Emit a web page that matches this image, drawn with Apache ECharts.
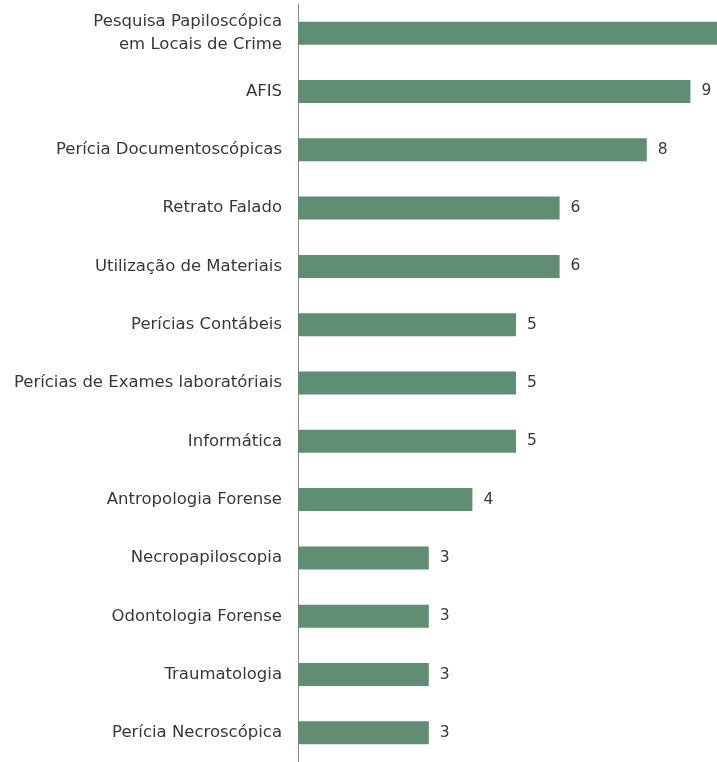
<!DOCTYPE html>
<html>
<head>
<meta charset="utf-8">
<script src="https://cdn.jsdelivr.net/npm/echarts@6/dist/echarts.min.js"></script>
<style>
  html, body { margin: 0; padding: 0; background: #ffffff; }
  #chart { width: 717px; height: 762px; }
</style>
</head>
<body>
<div id="chart"></div>
<script>
// Forensic specialties, listed top to bottom
const categories = [
  'Pesquisa Papiloscópica\nem Locais de Crime',
  'AFIS',
  'Perícia Documentoscópicas',
  'Retrato Falado',
  'Utilização de Materiais',
  'Perícias Contábeis',
  'Perícias de Exames laboratóriais',
  'Informática',
  'Antropologia Forense',
  'Necropapiloscopia',
  'Odontologia Forense',
  'Traumatologia',
  'Perícia Necroscópica'
];
const counts = [10, 9, 8, 6, 6, 5, 5, 5, 4, 3, 3, 3, 3];

const chart = echarts.init(document.getElementById('chart'));
chart.setOption({
  animation: false,
  // plot runs off the right edge, so the longest bar is cut there
  grid: { left: 298, top: 4, right: 0, height: 760, containLabel: false },
  xAxis: {
    type: 'value',
    min: 0,
    max: 9.61,
    show: false
  },
  yAxis: {
    type: 'category',
    inverse: true,
    data: categories,
    axisLine: { show: true, lineStyle: { color: '#8a8a8a', width: 1 } },
    axisTick: { show: false },
    axisLabel: {
      margin: 16,
      color: '#383838',
      fontFamily: 'DejaVu Sans',
      fontSize: 16.5,
      lineHeight: 23,
      align: 'right'
    }
  },
  series: [{
    type: 'bar',
    data: counts,
    barWidth: 23,
    clip: true,
    itemStyle: { color: '#5f8e73' },
    label: {
      show: true,
      position: 'right',
      distance: 11,
      color: '#383838',
      fontFamily: 'DejaVu Sans',
      fontSize: 15.5
    }
  }]
});
</script>
</body>
</html>
